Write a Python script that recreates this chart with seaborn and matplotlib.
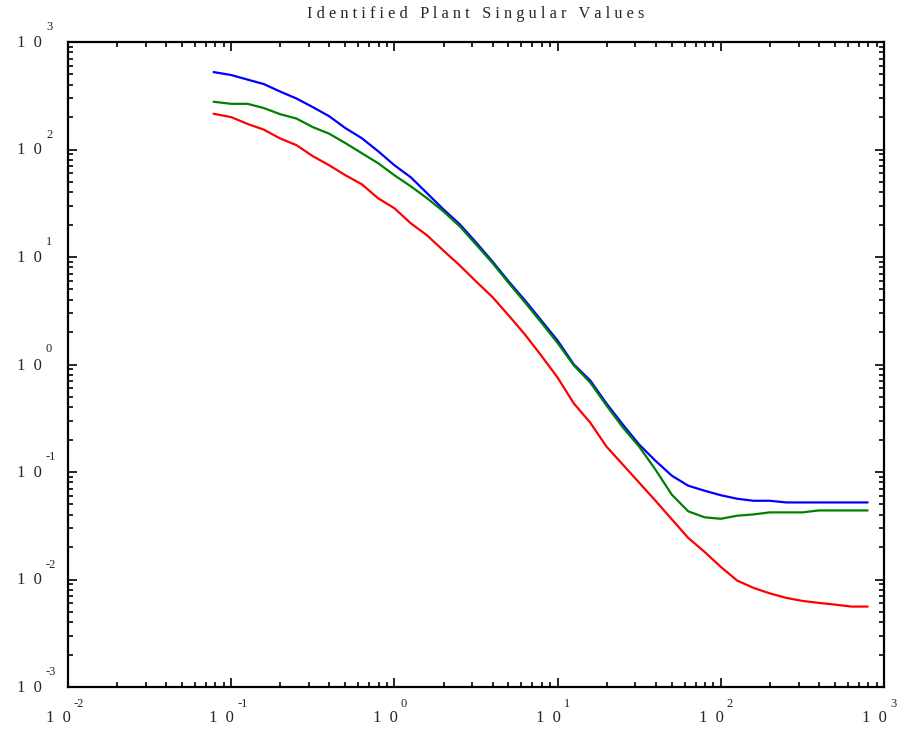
import numpy as np
import pandas as pd
import matplotlib
matplotlib.use("Agg")
import matplotlib.pyplot as plt
import matplotlib.ticker as mticker
import seaborn as sns

# ---- data ----
freq = [0.078, 0.1, 0.1259, 0.1585, 0.1995, 0.2512, 0.3162, 0.3981, 0.5012, 0.631,
        0.7943, 1.0, 1.259, 1.585, 1.995, 2.512, 3.162, 3.981, 5.012, 6.31,
        7.943, 10.0, 12.59, 15.85, 19.95, 25.12, 31.62, 39.81, 50.12, 63.1,
        79.43, 100.0, 125.9, 158.5, 199.5, 251.2, 316.2, 398.1, 501.2, 631.0, 794.3]

sv_blue = [525, 493, 447, 406, 346, 298, 248, 204, 158, 127.5,
           96.5, 71.4, 55.2, 39.2, 27.8, 20.2, 13.7, 9.12, 5.93, 3.95,
           2.57, 1.67, 1.00, 0.710, 0.433, 0.276, 0.180, 0.127, 0.0924, 0.0746,
           0.0670, 0.0608, 0.0564, 0.0540, 0.0540, 0.0521, 0.0521, 0.0521, 0.0521, 0.0521, 0.0521]

sv_green = [278, 266, 266, 243, 213, 194, 161.5, 140.4, 114.6, 92.4,
            74.6, 57.6, 45.5, 35.2, 26.6, 19.3, 13.1, 8.82, 5.74, 3.78,
            2.46, 1.585, 0.978, 0.679, 0.415, 0.259, 0.172, 0.105, 0.0615, 0.0431,
            0.0379, 0.0367, 0.0392, 0.0403, 0.0421, 0.0421, 0.0421, 0.0439, 0.0439, 0.0439, 0.0439]

sv_red = [215, 200, 173, 153, 126.7, 109.7, 86.7, 71.4, 57.6, 47.5,
          35.2, 28.4, 20.6, 15.9, 11.5, 8.36, 5.93, 4.25, 2.86, 1.90,
          1.21, 0.756, 0.433, 0.288, 0.172, 0.117, 0.0795, 0.0540, 0.0363, 0.0244,
          0.0181, 0.0131, 0.00978, 0.00836, 0.00743, 0.00675, 0.00632, 0.00606, 0.00584, 0.00560, 0.00560]

series_names = ["sv1", "sv2", "sv3"]
series_colors = {"sv1": "#0000ff", "sv2": "#008000", "sv3": "#ff0000"}
x_exponents = [-2, -1, 0, 1, 2, 3]
y_exponents = [-3, -2, -1, 0, 1, 2, 3]
title = "Identified Plant Singular Values"

df = pd.concat([
    pd.DataFrame({"freq": freq, "sv": vals, "series": name})
    for name, vals in zip(series_names, [sv_blue, sv_green, sv_red])
], ignore_index=True)

sns.set_theme(style="ticks")
plt.rcParams["font.family"] = ["Liberation Serif", "DejaVu Serif"]

W, H = 906, 729
fig = plt.figure(figsize=(W / 100, H / 100), dpi=100)
ax = fig.add_axes([68 / W, 42 / H, 816 / W, 645 / H])
ax.set_xscale("log")
ax.set_yscale("log")

sns.lineplot(data=df, x="freq", y="sv", hue="series", palette=series_colors,
             hue_order=series_names, legend=False, ax=ax, linewidth=1.6,
             estimator=None, sort=False)

ax.set_xlim(10.0 ** x_exponents[0], 10.0 ** x_exponents[-1])
ax.set_ylim(10.0 ** y_exponents[0], 10.0 ** y_exponents[-1])
ax.set_xlabel("")
ax.set_ylabel("")

for axis in (ax.xaxis, ax.yaxis):
    axis.set_major_locator(mticker.LogLocator(base=10, numticks=20))
    axis.set_minor_locator(mticker.LogLocator(base=10, subs=np.arange(2, 10), numticks=100))
    axis.set_minor_formatter(mticker.NullFormatter())

ax.tick_params(which="both", direction="in", top=True, right=True,
               labelbottom=False, labelleft=False, color="black")
ax.tick_params(which="major", length=6.5, width=1.2)
ax.tick_params(which="minor", length=3.6, width=1.2)
for sp in ax.spines.values():
    sp.set_linewidth(1.6)
    sp.set_color("black")

base_fs = 12
exp_fs = 9
for e in x_exponents:
    ax.annotate("1  0", xy=(10.0 ** e, 0), xycoords=("data", "axes fraction"),
                xytext=(3, -31), textcoords="offset pixels", ha="right", va="center",
                fontsize=base_fs, annotation_clip=False)
    ax.annotate(str(e), xy=(10.0 ** e, 0), xycoords=("data", "axes fraction"),
                xytext=(6, -17), textcoords="offset pixels", ha="left", va="center",
                fontsize=exp_fs, annotation_clip=False)
for e in y_exponents:
    ax.annotate("1  0", xy=(0, 10.0 ** e), xycoords=("axes fraction", "data"),
                xytext=(-26, -1), textcoords="offset pixels", ha="right", va="center",
                fontsize=base_fs, annotation_clip=False)
    ax.annotate(str(e), xy=(0, 10.0 ** e), xycoords=("axes fraction", "data"),
                xytext=(-22, 15), textcoords="offset pixels", ha="left", va="center",
                fontsize=exp_fs, annotation_clip=False)

spaced_title = "   ".join(" ".join(w) for w in title.split())
ax.annotate(spaced_title, xy=(0.5, 1), xycoords="axes fraction",
            xytext=(0, 28), textcoords="offset pixels", ha="center", va="center",
            fontsize=11.8, annotation_clip=False)

fig.savefig("out.png", dpi=100, facecolor="white")
